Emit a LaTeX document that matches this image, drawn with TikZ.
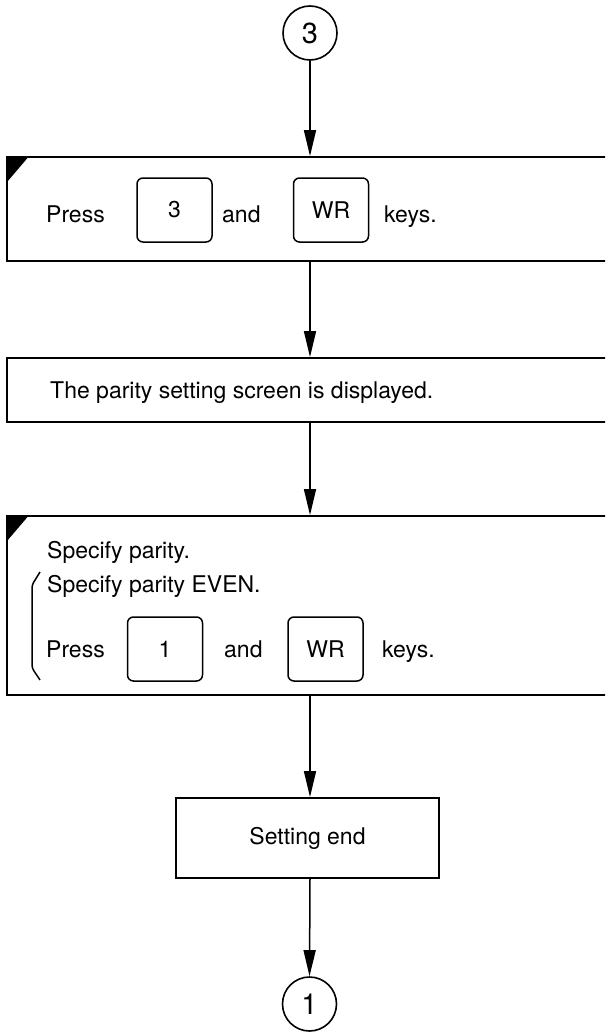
\documentclass[tikz,border=0pt]{standalone}
\usepackage{fontspec}
\setmainfont{TeX Gyre Heros}
\usetikzlibrary{arrows.meta}
\begin{document}
\begin{tikzpicture}[x=1pt,y=-1pt,
  stepbox/.style={draw, line width=1.8pt, rectangle, inner sep=0pt},
  keybox/.style={draw, line width=1.5pt, rounded corners=6pt, minimum width=75pt,
    minimum height=64pt, inner sep=0pt, font=\fontsize{23}{23}\selectfont},
  conn/.style={circle, draw, line width=1.6pt, minimum size=54pt, inner sep=0pt,
    font=\fontsize{29}{29}\selectfont},
  flow/.style={line width=1.5pt, -{Triangle[length=26pt,width=12pt]}},
  lbl/.style={anchor=base west, inner sep=0pt, font=\fontsize{23}{23}\selectfont},
  cornermark/.style={fill=black},
  bracket/.style={line width=1.5pt, rounded corners=3pt}
]
\useasboundingbox (0,0) rectangle (605,1033);
\clip (0,0) rectangle (605,1033);

% flow spine
\coordinate (spine) at (310,0);

% entry connector
\node[conn] (c3) at (310,33) {3};

% step 1: press 3 and WR
\node[stepbox, minimum width=605pt, minimum height=104pt] (b1) at (309.5,209) {};
\fill[cornermark] (b1.north west) -- ++(23,0) -- ++(-23,27) -- cycle;
\node[lbl] (b1press) at (46,222) {Press};
\node[keybox] (k3) at (174.5,210) {3};
\node[lbl] (b1and) at (222,222) {and};
\node[keybox] (kwr1) at (331,210) {WR};
\node[lbl] (b1keys) at (384,222) {keys.};

% step 2: parity screen
\node[stepbox, minimum width=605pt, minimum height=64pt] (b2) at (309.5,390) {};
\node[lbl] (b2txt) at (50,398) {The parity setting screen is displayed.};

% step 3: specify parity
\node[stepbox, minimum width=605pt, minimum height=179pt] (b3) at (309.5,605.5) {};
\fill[cornermark] (b3.north west) -- ++(23,0) -- ++(-23,27) -- cycle;
\node[lbl] (b3a) at (47,558) {Specify parity.};
\node[lbl] (b3b) at (47,592) {Specify parity EVEN.};
\draw[bracket] (40,572) -- (32,585) -- (32,668) -- (40,680);
\node[lbl] (b3press) at (46,657) {Press};
\node[keybox] (k1) at (165,649) {1};
\node[lbl] (b3and) at (224,657) {and};
\node[keybox] (kwr3) at (325.5,649) {WR};
\node[lbl] (b3keys) at (382,657) {keys.};

% step 4: end
\node[stepbox, minimum width=263pt, minimum height=80pt,
  font=\fontsize{23}{23}\selectfont] (b4) at (307.5,838) {Setting end};

% exit connector
\node[conn] (c1) at (309.5,1004) {1};

% connectors
\draw[flow] (c3.south) -- (spine |- b1.north);
\draw[flow] (spine |- b1.south) -- (spine |- b2.north);
\draw[flow] (spine |- b2.south) -- (spine |- b3.north);
\draw[flow] (spine |- b3.south) -- (spine |- b4.north);
\draw[flow] (spine |- b4.south) -- (c1.north);
\end{tikzpicture}
\end{document}
